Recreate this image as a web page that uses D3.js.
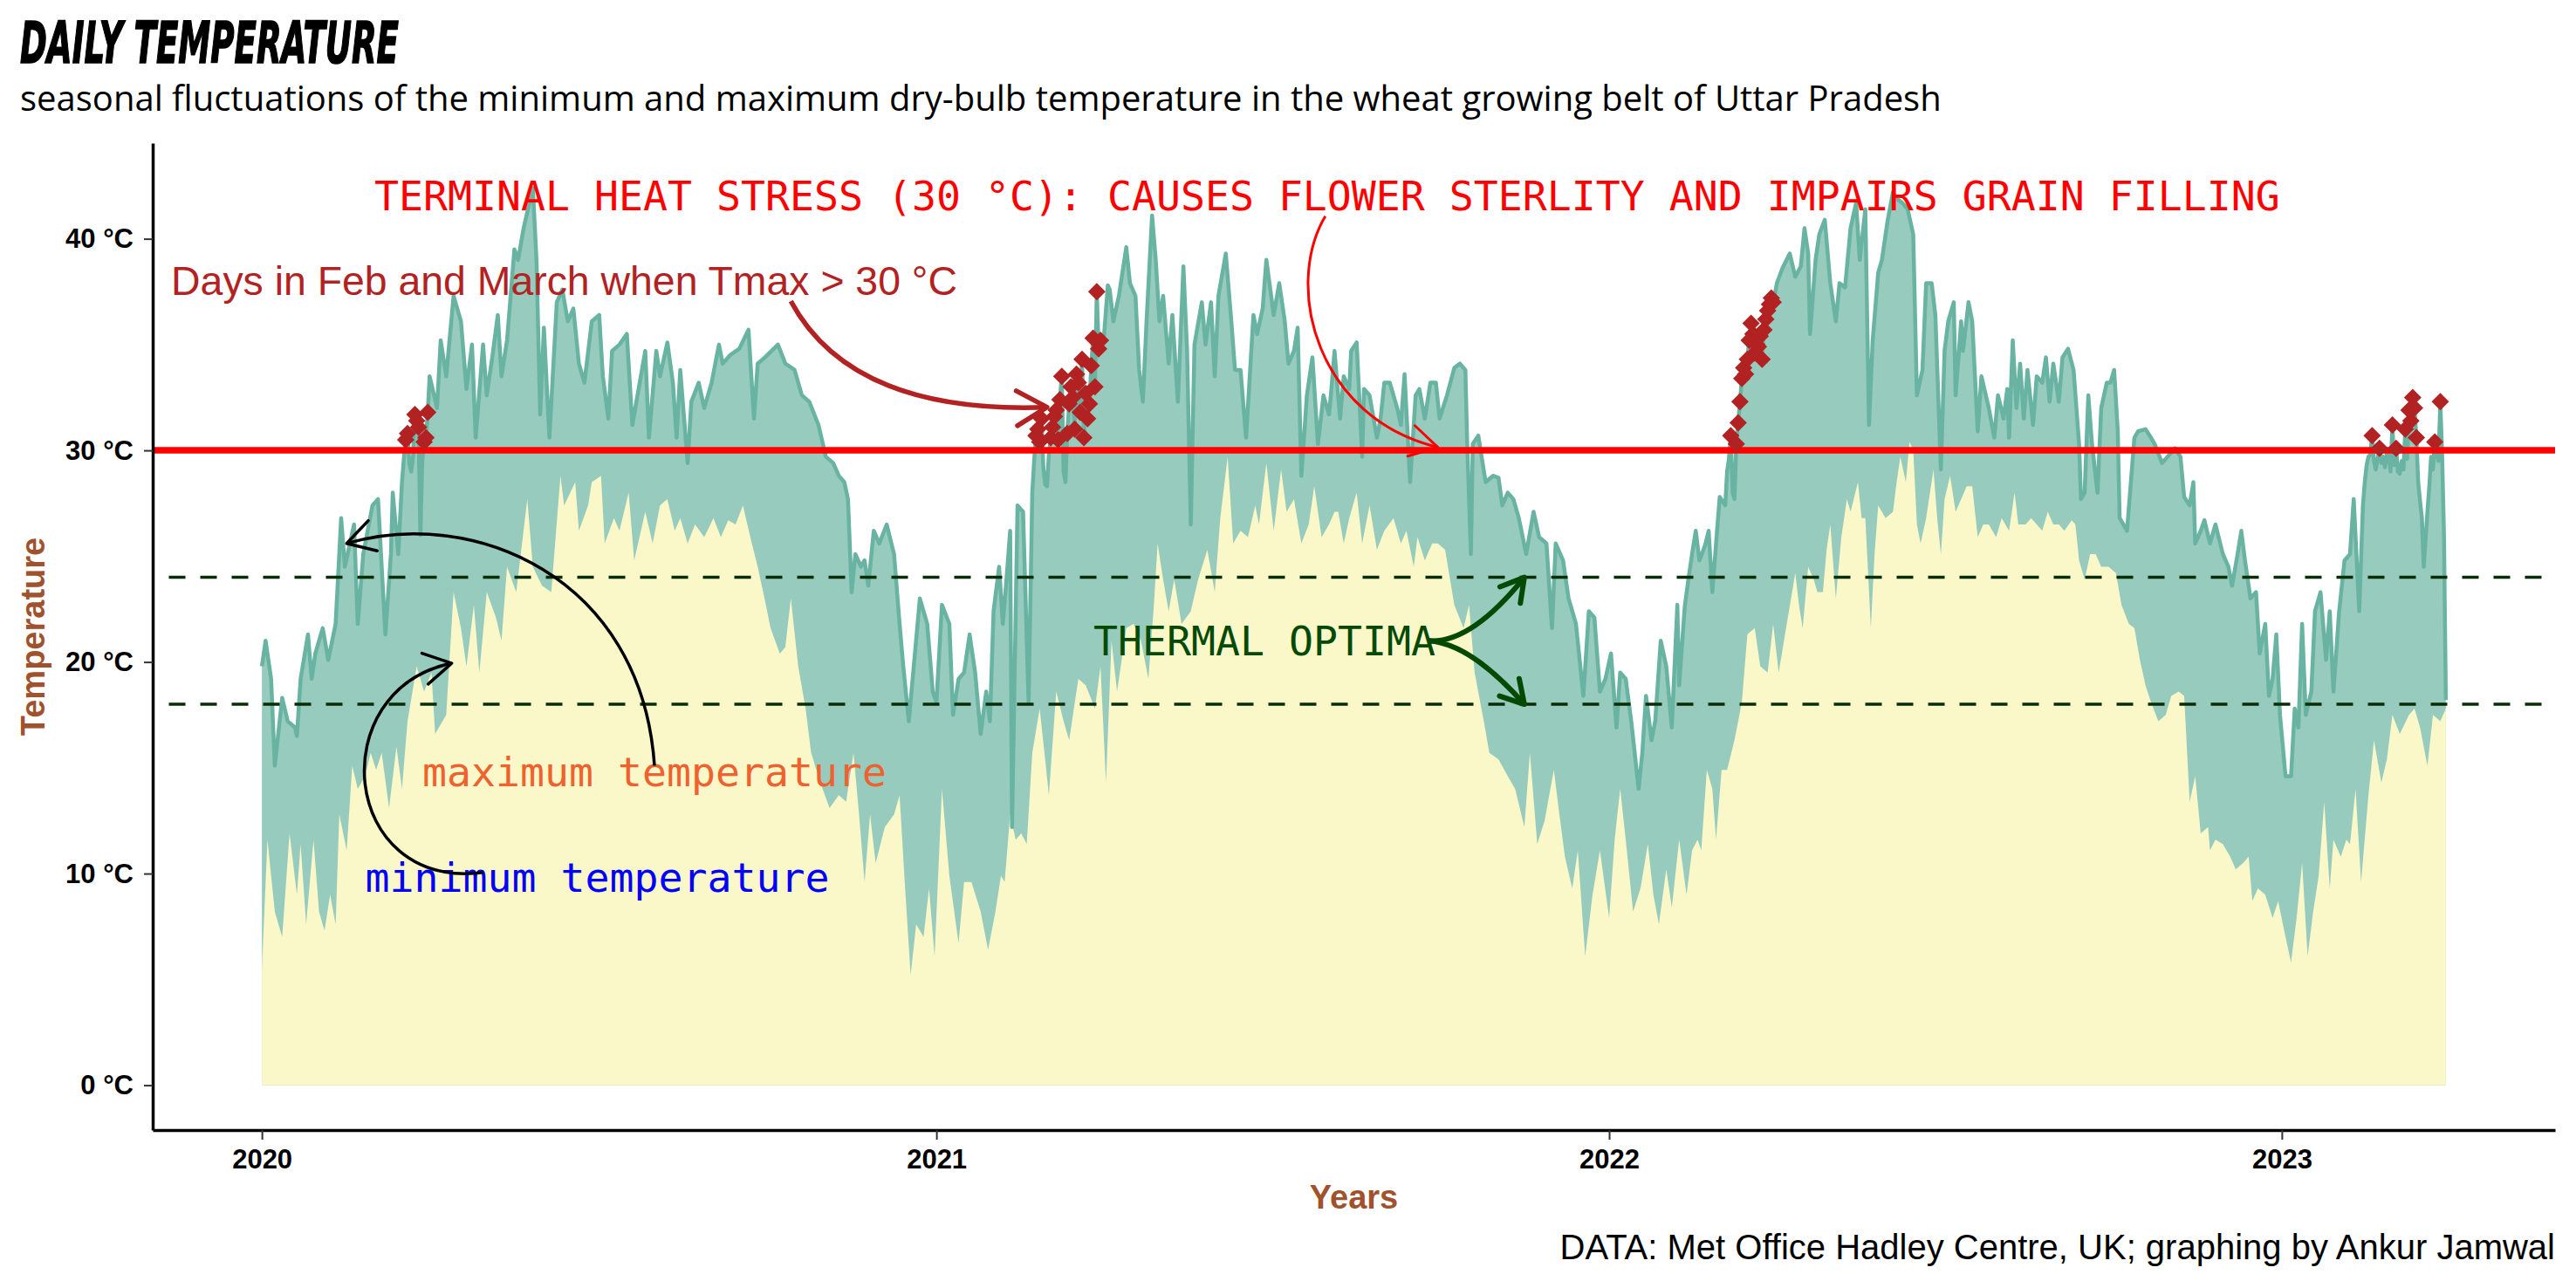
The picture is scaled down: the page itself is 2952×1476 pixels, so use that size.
<!DOCTYPE html>
<meta charset="utf-8">
<style>
body { margin: 0; background: #fff; }
svg { display: block; }
.axis text { font: bold 31px "Liberation Sans", Arial, sans-serif; fill: #000; }
</style>
<body>
<script src="https://d3js.org/d3.v7.min.js"></script>
<script>

// daily dry-bulb temperature: [day of year (Jan 1 = 0), °C]
const tmax2020 = [[0,19.8],[2,21.0],[5,19.2],[7,15.1],[11,18.3],[14,17.2],[18,16.9],[19,16.5],[21,19.2],[25,21.3],[27,19.2],[29,20.4],[33,21.6],[36,20.1],[40,21.8],[43,26.8],[45,24.5],[50,26.5],[52,21.8],[55,25.1],[60,27.4],[63,27.7],[67,21.3],[70,25.1],[71,28.0],[74,25.1],[76,28.5],[77,29.6],[78,30.5],[79,30.8],[80,29.4],[81,29.0],[82,29.7],[83,31.7],[84,31.4],[85,31.1],[86,26.0],[87,29.5],[88,30.4],[89,30.6],[90,31.8],[91,33.5],[95,32.0],[97,35.2],[100,33.5],[104,37.3],[108,36.1],[111,32.9],[114,35.0],[116,30.6],[120,35.0],[122,32.6],[125,34.4],[128,36.4],[130,33.5],[133,35.2],[137,39.5],[139,39.0],[142,40.5],[147,42.4],[149,39.0],[151,31.7],[153,35.8],[156,30.6],[160,37.0],[163,37.6],[166,36.1],[169,36.7],[172,34.1],[175,33.2],[179,36.1],[183,36.4],[185,33.5],[188,31.5],[190,34.7],[194,35.0],[198,35.5],[201,31.2],[205,33.2],[208,34.7],[210,30.6],[214,34.7],[216,33.5],[220,35.1],[223,33.2],[225,30.6],[227,33.8],[231,29.4],[233,32.3],[237,33.2],[240,32.0],[244,33.2],[248,35.0],[250,34.1],[254,34.5],[259,34.8],[264,35.7],[267,31.5],[269,34.1],[273,34.4],[280,35.0],[284,34.1],[289,33.8],[293,32.6],[297,32.3],[302,31.2],[306,29.7],[310,29.4],[313,28.8],[316,28.5],[318,27.7],[320,23.3],[322,25.1],[325,24.5],[327,24.8],[329,23.6],[332,26.2],[335,25.6],[339,26.5],[343,25.1],[346,21.8],[348,19.8],[351,17.2],[354,20.1],[357,23.0],[361,21.8],[364,18.6]];
const tmax2021 = [[0,18.1],[3,22.7],[7,21.8],[9,17.5],[12,19.2],[15,19.5],[18,21.3],[21,19.5],[24,16.6],[27,18.6],[29,17.2],[31,22.4],[34,24.5],[36,21.8],[38,23.9],[40,26.2],[41,12.2],[44,27.4],[47,27.1],[50,18.1],[52,28.0],[53,29.5],[54,30.7],[55,31.0],[56,30.4],[57,31.5],[58,29.2],[59,28.4],[60,28.3],[61,29.8],[62,30.6],[63,31.1],[64,31.6],[65,31.9],[66,30.5],[67,32.4],[68,33.5],[69,29.0],[70,28.5],[71,30.8],[72,32.2],[73,33.0],[74,32.5],[75,31.0],[76,33.6],[77,33.2],[78,31.8],[79,34.3],[80,30.6],[81,32.7],[82,31.5],[83,32.2],[84,34.0],[85,35.3],[86,33.0],[87,37.5],[88,34.8],[89,35.2],[90,35.0],[91,35.5],[93,37.8],[94,37.6],[96,36.1],[99,37.3],[103,39.6],[105,37.9],[108,37.3],[110,33.8],[112,32.3],[114,36.1],[117,41.1],[119,39.0],[121,36.1],[123,37.3],[126,34.1],[128,36.4],[131,32.3],[134,38.7],[136,34.7],[138,26.5],[140,35.0],[144,37.0],[146,35.0],[149,37.0],[151,33.5],[153,37.3],[157,39.3],[160,36.1],[162,33.8],[165,33.8],[168,30.6],[172,36.4],[174,35.5],[177,36.7],[179,39.0],[183,36.4],[186,37.9],[189,36.1],[191,34.1],[194,34.7],[196,35.8],[198,28.8],[201,32.6],[204,34.4],[207,30.3],[210,32.6],[213,31.7],[214,32.6],[216,34.7],[219,31.5],[221,33.5],[224,32.9],[225,34.7],[228,35.1],[231,29.7],[232,32.9],[235,32.6],[239,30.6],[241,31.5],[243,33.2],[246,33.2],[250,32.0],[252,31.2],[254,33.6],[257,28.5],[260,32.6],[262,32.9],[265,31.5],[268,33.2],[271,33.2],[273,31.5],[277,32.6],[281,33.9],[284,34.1],[287,33.8],[288,30.3],[290,25.1],[291,30.3],[294,30.7],[298,28.5],[302,28.8],[305,28.7],[307,27.4],[310,28.0],[313,27.7],[316,26.8],[320,25.1],[324,27.1],[327,25.9],[331,25.6],[334,21.6],[336,25.6],[340,24.8],[343,23.0],[347,21.8],[351,18.4],[354,22.4],[357,22.1],[360,18.6],[363,19.2]];
const tmax2022 = [[1,20.4],[4,16.9],[6,19.5],[9,19.2],[12,17.2],[16,14.0],[18,15.7],[20,18.4],[23,16.3],[25,17.2],[28,21.0],[31,19.8],[34,16.9],[37,22.7],[38,18.9],[41,22.6],[43,23.9],[45,25.1],[47,26.2],[49,24.8],[52,25.5],[54,26.2],[56,23.3],[58,25.6],[60,27.8],[63,27.4],[64,29.0],[65,29.6],[66,30.7],[67,28.0],[68,27.7],[69,30.3],[70,31.3],[71,32.3],[72,33.4],[73,33.9],[74,33.6],[75,34.3],[76,35.2],[77,36.0],[78,35.5],[79,34.6],[80,35.0],[81,34.9],[82,35.4],[83,34.3],[84,35.7],[85,36.2],[86,36.6],[87,36.9],[88,37.2],[89,37.0],[90,37.4],[91,37.9],[94,38.6],[98,39.3],[101,38.2],[104,38.7],[106,40.5],[108,39.3],[109,35.5],[112,39.0],[114,40.2],[117,40.9],[120,37.9],[123,36.1],[125,37.9],[128,37.7],[131,40.5],[134,41.7],[136,39.0],[139,41.4],[141,31.2],[143,35.2],[146,38.4],[148,39.0],[151,40.8],[154,42.2],[156,41.9],[159,41.7],[162,41.4],[165,40.2],[167,32.6],[170,33.8],[172,37.9],[175,37.9],[177,36.4],[180,29.1],[182,34.7],[184,36.1],[187,37.0],[188,32.6],[191,36.1],[192,34.7],[195,37.0],[197,36.1],[200,30.9],[202,33.5],[206,32.0],[209,30.6],[211,32.6],[214,31.5],[216,32.9],[217,30.6],[219,35.2],[221,32.0],[223,34.1],[225,31.5],[227,33.8],[230,31.2],[232,33.5],[235,33.2],[237,34.4],[239,32.3],[241,34.1],[244,32.3],[246,34.4],[249,34.8],[252,33.8],[255,30.3],[256,27.7],[258,28.0],[260,32.6],[262,30.3],[265,28.0],[267,32.0],[270,33.2],[272,33.2],[274,33.8],[276,30.9],[277,26.8],[281,26.2],[285,30.6],[287,30.9],[291,31.0],[294,30.6],[296,30.3],[300,29.4],[303,29.7],[307,30.1],[310,29.7],[312,27.8],[315,27.4],[317,28.5],[318,25.6],[321,26.2],[323,26.7],[326,25.6],[329,26.5],[333,25.1],[336,24.5],[338,23.6],[341,25.1],[343,26.2],[345,24.8],[348,23.0],[351,23.3],[353,20.4],[356,21.8],[358,18.4],[360,19.2],[362,21.3],[364,17.5]];
const tmax2023 = [[2,14.6],[5,14.6],[7,17.8],[9,16.9],[11,21.8],[13,17.5],[16,18.6],[18,22.4],[21,23.3],[24,20.1],[26,22.4],[28,18.6],[31,22.3],[34,24.8],[37,25.1],[39,27.7],[42,22.4],[44,27.4],[45,28.5],[46,29.3],[47,29.7],[48,29.8],[49,30.7],[50,29.5],[51,29.1],[52,29.6],[53,30.1],[54,29.4],[55,29.7],[56,29.2],[57,29.9],[58,29.8],[59,29.0],[60,31.2],[61,29.3],[62,30.1],[63,29.0],[64,28.9],[65,29.5],[66,29.1],[67,31.0],[68,29.6],[69,31.9],[70,31.4],[71,32.5],[72,32.0],[73,30.6],[74,28.5],[75,27.6],[76,26.8],[77,24.5],[78,25.8],[79,27.1],[80,28.3],[81,29.7],[82,29.1],[83,30.4],[84,29.8],[85,29.5],[86,32.3],[87,29.7],[88,25.9],[89,18.2]];

const tmin2020 = [[0,5.5],[3,11.6],[7,8.2],[11,7.0],[15,11.9],[19,9.0],[21,11.4],[24,7.6],[28,11.6],[31,8.2],[34,7.3],[37,9.0],[40,7.6],[42,12.8],[46,11.1],[49,15.1],[52,14.0],[56,14.6],[59,15.7],[62,14.9],[65,15.7],[69,13.1],[73,16.0],[76,14.0],[79,17.2],[84,19.8],[88,18.6],[92,19.5],[94,16.6],[100,17.5],[104,23.3],[108,21.6],[111,19.8],[115,22.7],[118,19.5],[122,23.3],[127,22.1],[130,21.0],[133,24.5],[138,23.3],[144,27.7],[147,24.5],[152,23.6],[157,23.3],[162,28.8],[164,27.4],[170,28.5],[172,26.2],[177,27.4],[179,28.5],[184,28.8],[186,25.6],[191,26.8],[194,26.2],[199,28.0],[202,24.8],[208,27.1],[212,25.6],[216,27.4],[220,27.7],[224,26.2],[227,26.8],[231,25.6],[235,26.5],[240,25.9],[245,26.8],[249,25.9],[253,26.7],[257,26.5],[261,27.4],[265,25.9],[269,24.5],[272,23.3],[276,21.6],[281,20.4],[284,20.7],[287,23.0],[291,19.8],[295,17.8],[298,15.7],[303,14.3],[308,13.1],[313,13.7],[317,13.4],[321,15.7],[324,12.8],[327,9.6],[330,12.8],[333,10.5],[338,12.2],[343,12.8],[346,13.7],[349,9.3],[352,5.2],[355,7.6],[359,7.0],[362,9.3],[365,6.1]];
const tmin2021 = [[3,14.0],[7,9.9],[12,6.7],[15,9.6],[19,9.6],[24,8.2],[28,6.4],[32,8.2],[35,9.9],[37,9.6],[40,12.8],[43,11.6],[46,11.9],[49,11.4],[52,15.7],[56,17.8],[59,15.4],[61,13.7],[65,18.6],[69,17.2],[72,16.3],[77,19.2],[81,18.9],[86,17.8],[89,19.8],[92,14.3],[95,21.0],[98,18.6],[103,21.6],[107,21.8],[111,21.0],[115,19.2],[118,22.7],[120,25.6],[123,23.9],[126,22.4],[129,23.9],[133,21.8],[138,22.4],[142,23.9],[147,25.3],[151,23.3],[154,26.8],[158,29.7],[161,25.6],[165,26.2],[169,25.9],[173,27.4],[175,26.5],[179,29.4],[183,26.2],[187,29.1],[190,27.1],[194,27.7],[198,25.6],[202,26.5],[205,28.3],[209,25.9],[213,26.5],[216,27.1],[218,27.1],[221,25.6],[224,26.8],[228,28.0],[231,25.6],[235,27.4],[239,25.3],[243,26.2],[248,26.8],[252,25.6],[255,26.2],[259,24.5],[261,25.9],[265,24.8],[269,25.6],[272,25.6],[276,25.3],[281,22.7],[286,21.6],[289,22.7],[292,19.5],[297,17.2],[300,15.7],[305,15.4],[310,14.6],[314,14.0],[319,12.2],[322,15.7],[326,11.4],[330,12.5],[335,14.9],[338,12.8],[341,10.8],[345,9.3],[348,11.1],[352,6.1],[356,9.0],[360,11.1]];
const tmin2022 = [[0,7.9],[3,11.6],[6,14.0],[9,11.6],[13,8.2],[17,9.3],[21,11.4],[24,9.0],[27,7.6],[31,10.2],[34,8.4],[38,11.6],[42,9.0],[45,11.1],[48,11.6],[50,11.1],[53,14.9],[56,14.0],[58,11.6],[61,14.9],[64,14.9],[68,16.3],[72,18.1],[75,21.3],[79,21.6],[82,19.8],[86,19.5],[89,21.8],[92,19.5],[96,21.6],[101,24.2],[103,22.7],[105,21.6],[108,24.5],[111,23.9],[113,23.3],[116,23.3],[118,25.3],[120,26.5],[123,23.0],[126,25.9],[129,27.7],[131,27.1],[135,28.5],[137,26.8],[139,26.8],[142,21.6],[144,25.1],[146,27.4],[150,26.8],[154,27.1],[156,28.5],[158,29.7],[161,28.5],[163,30.4],[165,30.0],[167,26.5],[169,25.6],[172,26.8],[176,29.1],[178,26.8],[180,25.1],[182,27.7],[185,28.8],[188,27.1],[191,27.7],[194,28.3],[197,28.3],[200,25.9],[203,26.5],[206,26.5],[210,25.9],[213,26.8],[217,26.2],[220,28.0],[222,26.5],[226,26.5],[229,26.8],[232,26.5],[235,26.2],[238,27.1],[241,26.5],[244,26.5],[247,26.2],[251,26.7],[253,26.5],[255,24.8],[258,23.9],[261,25.1],[264,25.1],[267,24.5],[271,24.5],[275,24.2],[278,22.7],[282,21.8],[285,21.6],[288,20.1],[291,18.9],[294,18.1],[298,17.2],[302,17.5],[305,18.4],[309,18.6],[312,18.4],[315,13.4],[318,14.6],[321,11.9],[325,12.2],[326,11.1],[329,11.6],[333,11.4],[337,10.8],[340,10.2],[344,10.5],[347,10.8],[349,8.7],[352,9.3],[356,9.0],[360,7.9],[363,8.7]];
const tmin2023 = [[2,7.0],[5,5.8],[8,7.9],[11,10.5],[14,6.1],[17,8.2],[20,9.9],[23,13.4],[26,9.3],[28,11.6],[32,10.8],[35,11.6],[37,11.4],[40,14.0],[43,9.6],[47,13.7],[50,16.3],[54,14.3],[57,15.4],[60,17.5],[64,16.6],[69,17.5],[72,17.8],[75,16.9],[79,15.1],[82,17.5],[86,17.2],[89,17.8]];

const yearTicks = [2020, 2021, 2022, 2023];
const tempTicks = [0, 10, 20, 30, 40];
const heatStress = 30;
const thermalOptima = [18, 24];
const stressMonths = [1, 2];   // February, March

const width = 2952;
const height = 1476;
const margin = {top: 164, right: 24, bottom: 181, left: 175};

const parseDate = d3.utcParse("%Y-%m-%d");

const toSeries = (year, rows) => rows.map(([d, v]) => ({
  date: d3.utcDay.offset(new Date(Date.UTC(year, 0, 1)), d),
  value: v
}));

const tmax = [[2020, tmax2020], [2021, tmax2021], [2022, tmax2022], [2023, tmax2023]]
  .flatMap(([yr, rows]) => toSeries(yr, rows));
const tmin = [[2020, tmin2020], [2021, tmin2021], [2022, tmin2022], [2023, tmin2023]]
  .flatMap(([yr, rows]) => toSeries(yr, rows));

// ggplot-like 5% expansion
const [d0, d1] = d3.extent(tmax.concat(tmin), d => d.date);
const dPad = (d1 - d0) * 0.05;
const tTop = d3.max(tmax, d => d.value);
const tPad = tTop * 0.05;

const x = d3.scaleUtc()
    .domain([new Date(+d0 - dPad), new Date(+d1 + dPad)])
    .range([margin.left, width - margin.right]);

const y = d3.scaleLinear()
    .domain([-tPad, tTop + tPad])
    .range([height - margin.bottom, margin.top]);

const svg = d3.select("body").append("svg")
    .attr("width", width)
    .attr("height", height);

const area = d3.area()
    .x(d => x(d.date))
    .y0(y(0))
    .y1(d => y(d.value));

const line = d3.line()
    .x(d => x(d.date))
    .y(d => y(d.value));

svg.append("path")
    .attr("d", area(tmax))
    .attr("fill", "#97cbbe");

svg.append("path")
    .attr("d", area(tmin))
    .attr("fill", "#faf8c8");

svg.append("path")
    .attr("d", line(tmax))
    .attr("fill", "none")
    .attr("stroke", "#69b3a2")
    .attr("stroke-width", 4.5)
    .attr("stroke-linejoin", "round");

// thermal optima
svg.selectAll("line.optima")
  .data(thermalOptima)
  .join("line")
    .attr("class", "optima")
    .attr("x1", x.range()[0])
    .attr("x2", x.range()[1])
    .attr("y1", d => y(d))
    .attr("y2", d => y(d))
    .attr("stroke", "#062d06")
    .attr("stroke-width", 3.5)
    .attr("stroke-dasharray", "19 17")
    .attr("stroke-dashoffset", 17.5);

// terminal heat stress
svg.append("line")
    .attr("x1", x.range()[0])
    .attr("x2", x.range()[1])
    .attr("y1", y(heatStress))
    .attr("y2", y(heatStress))
    .attr("stroke", "red")
    .attr("stroke-width", 7.5);

// Feb & March days above the threshold
const hot = tmax.filter(d => stressMonths.includes(d.date.getUTCMonth()) && d.value > heatStress);

svg.selectAll("path.hot")
  .data(hot)
  .join("path")
    .attr("class", "hot")
    .attr("d", d3.symbol(d3.symbolSquare, 200))
    .attr("transform", d => `translate(${x(d.date)},${y(d.value)}) rotate(45)`)
    .attr("fill", "#b22222");

// axes
svg.append("g")
    .attr("class", "axis")
    .attr("transform", `translate(${margin.left},0)`)
    .call(d3.axisLeft(y)
      .tickValues(tempTicks)
      .tickFormat(d => d + " °C")
      .tickSize(10)
      .tickSizeOuter(0)
      .tickPadding(12));

svg.append("g")
    .attr("class", "axis")
    .attr("transform", `translate(0,${height - margin.bottom})`)
    .call(d3.axisBottom(x)
      .tickValues(yearTicks.map(yr => new Date(Date.UTC(yr, 0, 1))))
      .tickFormat(d3.utcFormat("%Y"))
      .tickSize(11)
      .tickSizeOuter(0)
      .tickPadding(11));

svg.selectAll(".axis .domain").attr("stroke", "#000").attr("stroke-width", 3.5);
svg.selectAll(".axis .tick line").attr("stroke", "#333").attr("stroke-width", 2);

// titles
svg.append("text")
    .attr("x", 23)
    .attr("y", 72)
    .attr("textLength", 434)
    .attr("lengthAdjust", "spacingAndGlyphs")
    .style("font", "italic bold 66px 'Liberation Sans Narrow', 'DejaVu Sans Condensed', sans-serif")
    .attr("stroke", "#000")
    .attr("stroke-width", 1.5)
    .text("DAILY TEMPERATURE");

svg.append("text")
    .attr("x", 23)
    .attr("y", 127)
    .style("font", "40px 'Open Sans', sans-serif")
    .text("seasonal fluctuations of the minimum and maximum dry-bulb temperature in the wheat growing belt of Uttar Pradesh");

svg.append("text")
    .attr("x", (x.range()[0] + x.range()[1]) / 2)
    .attr("y", 1385)
    .attr("text-anchor", "middle")
    .attr("fill", "#a0522d")
    .style("font", "bold 38px 'Liberation Sans', Arial, sans-serif")
    .text("Years");

svg.append("text")
    .attr("transform", `translate(51,${(y.range()[0] + y.range()[1]) / 2}) rotate(-90)`)
    .attr("text-anchor", "middle")
    .attr("fill", "#a0522d")
    .style("font", "bold 38px 'Liberation Sans', Arial, sans-serif")
    .text("Temperature");

svg.append("text")
    .attr("x", x.range()[1])
    .attr("y", 1443)
    .attr("text-anchor", "end")
    .style("font", "40px 'Liberation Sans', Arial, sans-serif")
    .text("DATA: Met Office Hadley Centre, UK; graphing by Ankur Jamwal");

// annotations, placed in data units
const mono = "46.5px 'DejaVu Sans Mono', monospace";
const sans = "46.4px 'Liberation Sans', Arial, sans-serif";

const notes = [
  {text: "TERMINAL HEAT STRESS (30 °C): CAUSES FLOWER STERLITY AND IMPAIRS GRAIN FILLING", at: ["2021-08-01", 42], color: "red", font: mono},
  {text: "Days in Feb and March when Tmax > 30 °C", at: ["2020-06-13", 38], color: "#b22222", font: sans},
  {text: "THERMAL OPTIMA", at: ["2021-06-28", 21], color: "#044a04", font: mono},
  {text: "maximum temperature", at: ["2020-08-01", 14.8], color: "#ee6230", font: mono},
  {text: "minimum temperature", at: ["2020-07-01", 9.8], color: "#0000ff", font: mono}
];

svg.selectAll("text.note")
  .data(notes)
  .join("text")
    .attr("class", "note")
    .attr("x", d => x(parseDate(d.at[0])))
    .attr("y", d => y(d.at[1]))
    .attr("dy", "0.35em")
    .attr("text-anchor", "middle")
    .attr("fill", d => d.color)
    .style("font", d => d.font)
    .text(d => d.text);

const defs = svg.append("defs");

function arrowHead(id, color, side, sw) {
  const len = side * Math.cos(Math.PI / 6);
  const h = side * Math.sin(Math.PI / 6);
  defs.append("marker")
      .attr("id", id)
      .attr("markerUnits", "userSpaceOnUse")
      .attr("viewBox", `${-len - sw} ${-h - sw} ${len + 2 * sw} ${2 * h + 2 * sw}`)
      .attr("markerWidth", len + 2 * sw)
      .attr("markerHeight", 2 * h + 2 * sw)
      .attr("refX", 0)
      .attr("refY", 0)
      .attr("orient", "auto")
    .append("path")
      .attr("d", `M${-len},${-h}L0,0L${-len},${h}`)
      .attr("fill", "none")
      .attr("stroke", color)
      .attr("stroke-width", sw)
      .attr("stroke-linecap", "round")
      .attr("stroke-linejoin", "round");
}

const pt = ([d, t]) => [x(parseDate(d)), y(t)];

function curvePath(pts) {
  const p = pts.map(pt);
  return p.length === 3
    ? `M${p[0]}Q${p[1]} ${p[2]}`
    : `M${p[0]}C${p[1]} ${p[2]} ${p[3]}`;
}

const arrows = [
  {pts: [["2020-10-14", 37.05], ["2020-11-16", 31.7], ["2021-03-02", 32.04]], color: "#b22222", width: 5.5, head: 40},
  {pts: [["2021-07-31", 41.07], ["2021-07-08", 37.67], ["2021-07-27", 31.49], ["2021-09-30", 30.15]], color: "red", width: 3, head: 36},
  {pts: [["2021-09-25", 21], ["2021-10-18", 20.86], ["2021-11-16", 24]], color: "#044a04", width: 6, head: 30},
  {pts: [["2021-09-25", 21], ["2021-10-18", 20.86], ["2021-11-16", 18]], color: "#044a04", width: 6, head: 30},
  {pts: [["2020-08-01", 15.1], ["2020-07-25", 24.07], ["2020-04-24", 27.36], ["2020-02-16", 25.6]], color: "#000", width: 3.5, head: 36},
  {pts: [["2020-04-30", 10.05], ["2020-02-12", 9.22], ["2020-02-03", 18.7], ["2020-04-13", 19.94]], color: "#000", width: 3.5, head: 36}
];

arrows.forEach((a, i) => {
  arrowHead("head" + i, a.color, a.head, a.width);
  svg.append("path")
      .attr("d", curvePath(a.pts))
      .attr("fill", "none")
      .attr("stroke", a.color)
      .attr("stroke-width", a.width)
      .attr("marker-end", `url(#head${i})`);
});

</script>
